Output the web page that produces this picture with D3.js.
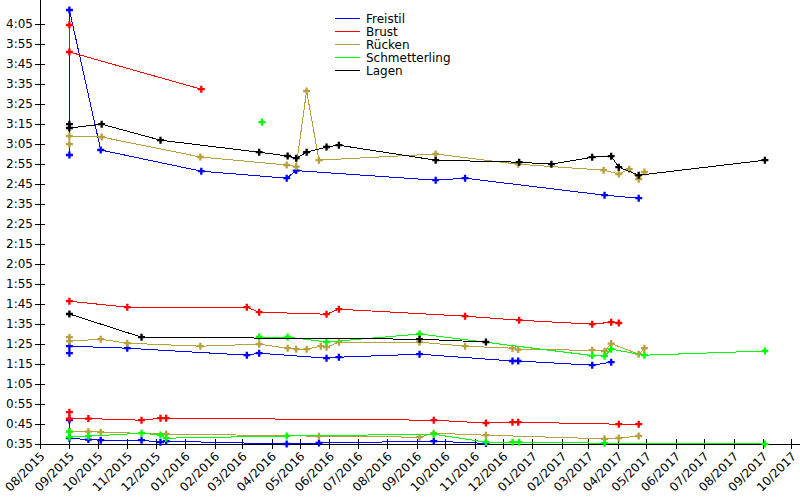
<!DOCTYPE html>
<html>
<head>
<meta charset="utf-8">
<script src="https://cdn.jsdelivr.net/npm/d3@7"></script>
<style>
html,body{margin:0;padding:0;background:#fff;}
svg{display:block;font-family:"DejaVu Sans",sans-serif;}
</style>
</head>
<body>
<svg id="chart" width="800" height="500"></svg>
<script>
// ---- data: [date, time in seconds] ----
const strokes = ["Freistil", "Brust", "Rücken", "Schmetterling", "Lagen"];
const colors = ["#0000ff", "#ff0000", "#b8a03c", "#00ff00", "#000000"];

const freistil200 = [["2015-09-01",179.5],["2015-09-01",252],["2015-10-04",182],["2016-01-18",171.4],["2016-04-17",167.9],["2016-04-27",171.7],["2016-09-21",166.9],["2016-10-22",167.9],["2017-03-18",159.4],["2017-04-23",157.9]];
const freistil100 = [["2015-09-01",80.4],["2015-09-01",83.9],["2015-11-01",82.9],["2016-03-06",79.4],["2016-03-19",80.4],["2016-05-29",77.9],["2016-06-11",78.4],["2016-09-04",79.9],["2016-12-11",76.5],["2016-12-17",76.5],["2017-03-05",74.4],["2017-03-25",75.9]];
const freistil50 = [["2015-09-01",47],["2015-09-01",37.9],["2015-09-21",37.2],["2015-10-04",36.9],["2015-11-16",36.9],["2015-12-06",35.9],["2015-12-12",36.4],["2016-04-17",35],["2016-05-21",35.5],["2016-09-19",36.4],["2016-11-13",35.3]];

const brust200 = [["2015-09-01",244.5],["2015-09-01",231],["2016-01-18",212.4]];
const brust100 = [["2015-09-01",106.4],["2015-11-01",103.4],["2016-03-06",103.4],["2016-03-19",100.9],["2016-05-29",99.9],["2016-06-11",102.4],["2016-10-22",98.9],["2016-12-18",96.9],["2017-03-05",94.9],["2017-03-25",95.9],["2017-04-02",95.5]];
const brust50 = [["2015-09-01",50.9],["2015-09-01",47.7],["2015-09-21",47.7],["2015-11-16",46.9],["2015-12-06",47.9],["2015-12-12",47.9],["2016-09-19",46.9],["2016-11-13",45.5],["2016-12-11",45.9],["2016-12-17",45.9],["2017-04-02",44.9],["2017-04-23",44.9]];

const ruecken200 = [["2015-09-01",184.9],["2015-09-01",188.9],["2015-10-05",188.5],["2016-01-17",178.5],["2016-04-17",174.5],["2016-04-27",173.7],["2016-05-08",211.5],["2016-05-21",176.9],["2016-09-21",180],["2016-12-17",174.9],["2017-03-17",171.9],["2017-04-02",170],["2017-04-13",172.4],["2017-04-23",167.4],["2017-04-29",171]];
const ruecken100 = [["2015-09-01",88.4],["2015-09-01",86.4],["2015-10-04",87.4],["2015-11-01",85.4],["2016-01-17",83.9],["2016-03-19",84.9],["2016-04-18",82.9],["2016-04-27",82.4],["2016-05-08",82.4],["2016-05-23",83.9],["2016-05-29",83.4],["2016-06-11",85.9],["2016-09-04",85.9],["2016-10-22",83.9],["2016-12-11",82.9],["2016-12-17",82.2],["2017-03-05",81.9],["2017-03-18",81.4],["2017-03-25",85.2],["2017-04-23",79.9],["2017-04-29",82.9]];
const ruecken50 = [["2015-09-01",41.2],["2015-09-21",41.2],["2015-10-04",40.9],["2015-12-12",40],["2016-05-21",38.9],["2016-09-04",38.4],["2016-09-19",40.4],["2016-11-13",39.4],["2017-03-18",37.6],["2017-04-02",38],["2017-04-23",39]];

const schmetterling200 = [["2016-03-22",195.9]];
const schmetterling100 = [["2016-03-19",88.5],["2016-04-18",88.5],["2016-05-29",86],["2016-09-04",90],["2017-03-05",79.2],["2017-03-18",78.9],["2017-03-25",82.4],["2017-04-29",79.4],["2017-09-03",81.5]];
const schmetterling50 = [["2015-09-01",41.2],["2015-09-01",38.4],["2015-09-21",38.9],["2015-11-16",40.4],["2015-12-06",39.5],["2015-12-12",37.9],["2016-04-17",39],["2016-09-19",39.9],["2016-11-13",35.9],["2016-12-11",35.9],["2016-12-18",35.9],["2017-03-18",35.4],["2017-09-03",35]];

const lagen200 = [["2015-09-01",194.9],["2015-09-01",193],["2015-10-05",194.9],["2015-12-06",186.9],["2016-03-19",180.9],["2016-04-18",179],["2016-04-27",177.9],["2016-05-08",180.9],["2016-05-29",183.5],["2016-06-11",184.4],["2016-09-21",176.9],["2016-12-18",175.9],["2017-01-21",174.9],["2017-03-05",178.4],["2017-03-25",178.9],["2017-04-02",173.4],["2017-04-23",169.4],["2017-09-03",176.9]];
const lagen100 = [["2015-09-01",100],["2015-11-16",88.4],["2016-09-04",87.4],["2016-11-13",86]];

const yTickValues = [35,45,55,65,75,85,95,105,115,125,135,145,155,165,175,185,195,205,215,225,235,245];
const xDomain = ["2015-08-01", "2017-10-10"];
const yDomain = [35, 257];

const seriesByStroke = [
  [freistil200, freistil100, freistil50],
  [brust200, brust100, brust50],
  [ruecken200, ruecken100, ruecken50],
  [schmetterling200, schmetterling100, schmetterling50],
  [lagen200, lagen100]
];

// ---- drawing ----
(function () {
const parse = d3.utcParse("%Y-%m-%d");
const svg = d3.select("#chart");
const mLeft = 40, mRight = 800, mTop = 0, mBottom = 444;

const x = d3.scaleUtc().domain(xDomain.map(parse)).range([mLeft, mRight]);
const y = d3.scaleLinear().domain(yDomain).range([mBottom, mTop]);

const fmt = s => { const m = Math.floor(s / 60), r = Math.round(s - m * 60); return m + ":" + (r < 10 ? "0" : "") + r; };

// y axis
const yAxis = svg.append("g").attr("transform", `translate(${mLeft},0)`)
  .call(d3.axisLeft(y).tickValues(yTickValues).tickFormat(fmt).tickSize(5).tickPadding(3));
yAxis.select(".domain").remove();
yAxis.selectAll(".tick line").attr("x1", -5).attr("x2", 5).attr("stroke", "#000").attr("shape-rendering", "crispEdges");
yAxis.selectAll(".tick text").attr("font-size", 12).attr("font-family", "DejaVu Sans").attr("fill", "#000").attr("x", -7);
svg.append("line").attr("x1", mLeft).attr("x2", mLeft).attr("y1", mTop).attr("y2", mBottom)
  .attr("stroke", "#000").attr("shape-rendering", "crispEdges");

// x axis
const xAxis = svg.append("g").attr("transform", `translate(0,${mBottom})`)
  .call(d3.axisBottom(x).ticks(d3.utcMonth.every(1)).tickFormat(d3.utcFormat("%m/%Y")).tickSize(5));
xAxis.select(".domain").remove();
xAxis.selectAll(".tick line").attr("y1", -5).attr("y2", 5).attr("stroke", "#000").attr("shape-rendering", "crispEdges");
xAxis.selectAll(".tick text")
  .attr("font-size", 12).attr("font-family", "DejaVu Sans").attr("fill", "#000")
  .attr("text-anchor", "end").attr("y", 0).attr("dy", 0)
  .attr("transform", "translate(5,13) rotate(-45)");
svg.append("line").attr("x1", mLeft).attr("x2", mRight).attr("y1", mBottom).attr("y2", mBottom)
  .attr("stroke", "#000").attr("shape-rendering", "crispEdges");

// series
const line = d3.line().x(d => x(parse(d[0]))).y(d => y(d[1]));
const sym = d3.symbol().type(d3.symbolCross).size(27);
seriesByStroke.forEach((group, i) => {
  const g = svg.append("g");
  group.forEach(arr => {
    g.append("path").attr("d", line(arr)).attr("fill", "none")
      .attr("stroke", colors[i]).attr("stroke-width", 1).attr("shape-rendering", "crispEdges");
  });
  group.forEach(arr => {
    g.selectAll(null).data(arr).join("path")
      .attr("d", sym)
      .attr("transform", d => `translate(${x(parse(d[0]))},${y(d[1])})`)
      .attr("fill", colors[i]);
  });
});

// legend
const leg = svg.append("g");
strokes.forEach((s, i) => {
  const ly = 18 + i * 13.1;
  leg.append("line").attr("x1", 335).attr("x2", 360).attr("y1", ly).attr("y2", ly)
    .attr("stroke", colors[i]).attr("shape-rendering", "crispEdges");
  leg.append("text").attr("x", 366).attr("y", ly + 4.5).attr("font-size", 12)
    .attr("fill", "#000").text(s);
});
})();
</script>
</body>
</html>
